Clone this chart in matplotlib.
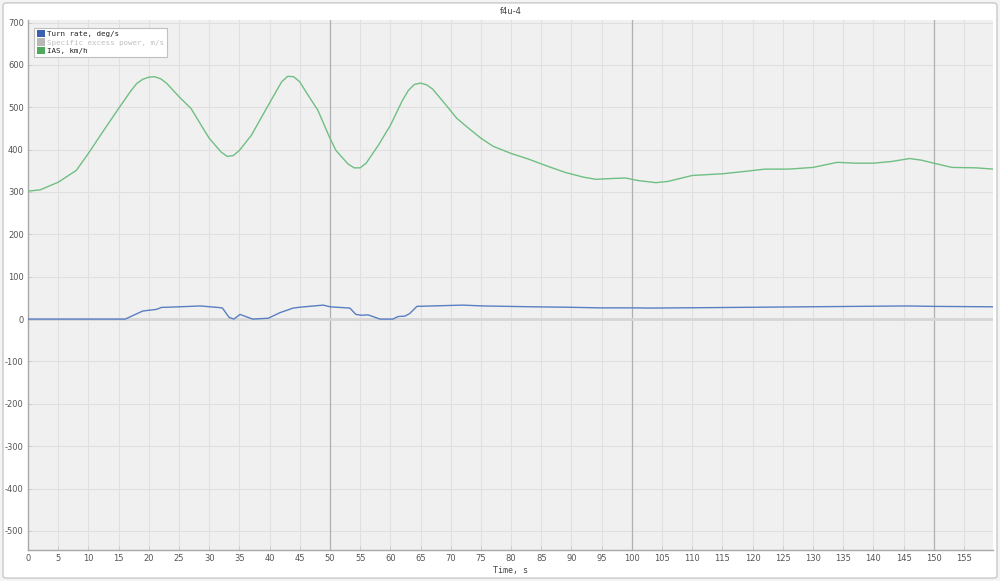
"""Flight log chart: turn rate and IAS against time (f4u-4)."""
import matplotlib
matplotlib.use("Agg")
import matplotlib.pyplot as plt
from matplotlib.patches import FancyBboxPatch, Patch

plt.rcParams["axes.unicode_minus"] = False

TITLE = "f4u-4"
XLABEL = "Time, s"
LEGEND_LABELS = ["Turn rate, deg/s", "Specific excess power, m/s", "IAS, km/h"]

# IAS, km/h
ias_t = [0, 2, 5, 8, 10, 12, 15, 17, 18, 19, 20, 21, 22, 23, 25, 27, 29, 30,
         32, 33, 34, 35, 37, 39, 41, 42, 43, 44, 45, 46, 48, 50, 51, 53, 54,
         55, 56, 58, 60, 62, 63, 64, 65, 66, 67, 69, 71, 73, 75, 77, 80, 83,
         86, 89, 92, 94, 97, 99, 101, 104, 106, 110, 115, 119, 122, 126, 130,
         134, 137, 140, 143, 146, 148, 150, 153, 157, 159.8]
ias_v = [302, 305, 323, 351, 391, 434, 497, 538, 556, 566, 571, 572, 567, 556,
         525, 497, 450, 427, 394, 384, 386, 398, 434, 485, 535, 560, 573, 572,
         560, 537, 493, 427, 398, 366, 357, 357, 368, 410, 457, 516, 540, 554,
         557, 553, 543, 509, 474, 450, 427, 408, 391, 377, 361, 346, 335, 330,
         332, 333, 327, 322, 325, 339, 343, 349, 354, 354, 358, 370, 368, 368,
         372, 379, 375, 368, 358, 357, 354]

# Turn rate, deg/s
turn_t = [0, 16.1, 19, 21.3, 22.1, 25.1, 28.5, 31.8, 32.2, 33.3, 34.1, 35.1,
          37.2, 39.8, 41.7, 43.9, 45, 48.9, 50, 53.3, 54.3, 55.3, 56.3, 58.3,
          60.4, 61.3, 62.4, 63.2, 64.4, 72, 75.3, 83.6, 89.2, 94.7, 100.2, 103,
          112.4, 129, 145.5, 149.9, 159.8]
turn_v = [0, 0, 19, 23, 27.5, 29, 31, 27, 26, 4, 0, 11, 0, 2, 15, 26, 28, 33,
          29, 26, 11, 9, 10, 0, 0, 6, 7, 13, 30, 33, 31, 29, 28, 26.5, 26.5, 26,
          27, 29, 31, 30, 29]

BLUE = "#3b61b0"
GREY = "#b8b8b8"
GREEN = "#4caa5a"

fig = plt.figure(figsize=(10, 5.81), dpi=100)
fig.patch.set_facecolor("#f4f4f4")
fig.patches.append(FancyBboxPatch(
    (0.003, 0.005), 0.994, 0.99, boxstyle="round,pad=0,rounding_size=0.004",
    transform=fig.transFigure, facecolor="white", edgecolor="#c8c8c8",
    linewidth=1.0, zorder=-10))

ax = fig.add_axes([0.028, 0.0534, 0.965, 0.9122])
ax.set_facecolor("#f0f0f0")

ax.plot(turn_t, turn_v, color="#5a7ec2", linewidth=1.0, zorder=4)
ax.plot(ias_t, ias_v, color="#6fbf82", linewidth=1.0, zorder=4)

ax.set_xlim(0, 159.8)
ax.set_ylim(-545, 706)
ax.set_xticks(range(0, 160, 5))
ax.set_yticks(range(-500, 701, 100))
ax.grid(True, color="#e0e0e0", linewidth=0.8, zorder=0)
ax.set_axisbelow(True)
for x in (50, 100, 150):
    ax.axvline(x, color="#b0b0b0", linewidth=0.9, zorder=1)
ax.axhline(0, color="#d6d6d6", linewidth=2.0, zorder=1)

for side in ("top", "right"):
    ax.spines[side].set_visible(False)
for side in ("left", "bottom"):
    ax.spines[side].set_color("#a8a8a8")
    ax.spines[side].set_linewidth(1.0)
ax.tick_params(direction="in", length=3, width=0.6, color="#c8c8c8",
               labelsize=6, labelcolor="#555555", pad=3)

ax.set_xlabel(XLABEL, fontsize=6, color="#444444", labelpad=2,
              family="DejaVu Sans Mono")
ax.set_title(TITLE, fontsize=6, color="#444444", pad=4)

handles = [Patch(facecolor=c, edgecolor="none") for c in (BLUE, GREY, GREEN)]
leg = ax.legend(handles, LEGEND_LABELS, loc="upper left",
                bbox_to_anchor=(0.004, 0.99), frameon=True, fancybox=False,
                prop={"family": "DejaVu Sans Mono", "size": 5.4},
                handlelength=1.1, handleheight=1.1, handletextpad=0.3,
                labelspacing=0.15, borderpad=0.35, borderaxespad=0.3)
leg.get_frame().set_edgecolor("#c0c0c0")
leg.get_frame().set_linewidth(0.8)
leg.get_frame().set_alpha(1.0)
for txt, col in zip(leg.get_texts(), ("#222222", "#c0c0c0", "#222222")):
    txt.set_color(col)

fig.savefig("out.png", dpi=100)
